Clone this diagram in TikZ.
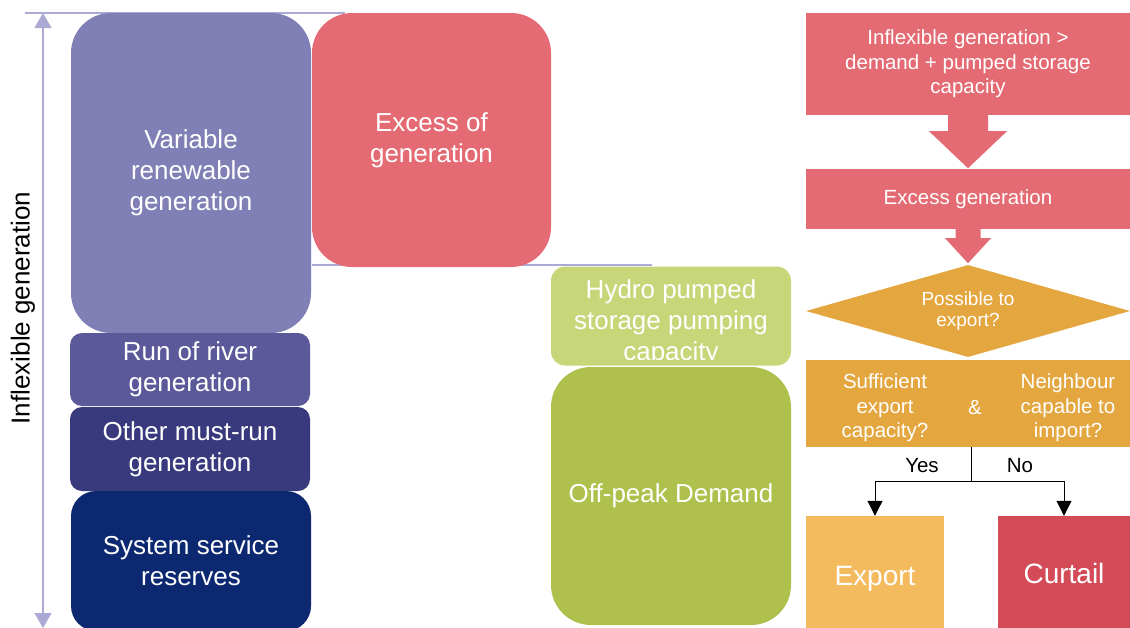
\documentclass[tikz,border=0pt]{standalone}
\usepackage{fontspec}
\setmainfont{Liberation Sans}
\usetikzlibrary{arrows.meta, calc, shapes.geometric}

\definecolor{axisline}{RGB}{170,170,212}
\definecolor{varren}{RGB}{129,128,182}
\definecolor{excessred}{RGB}{228,107,115}
\definecolor{riverblue}{RGB}{91,89,153}
\definecolor{mustrun}{RGB}{57,57,125}
\definecolor{reserves}{RGB}{12,40,112}
\definecolor{hydro}{RGB}{200,214,122}
\definecolor{offpeak}{RGB}{175,193,76}
\definecolor{askorange}{RGB}{228,166,62}
\definecolor{exportorange}{RGB}{243,186,94}
\definecolor{curtailred}{RGB}{212,75,88}

\newcommand{\bigfont}{\fontsize{26}{31}\selectfont}
\newcommand{\flowfont}{\fontsize{20.5}{24.5}\selectfont}
\newcommand{\askfont}{\fontsize{19}{21}\selectfont}

\tikzset{
  stack/.style={rectangle, rounded corners=#1, inner sep=0pt, minimum width=240pt,
    text=white, font=\bigfont, align=center},
  stack/.default=12pt,
  flow/.style={rectangle, inner sep=0pt, text=white, font=\flowfont, align=center},
  guide/.style={draw=axisline, line width=1.2pt},
  branch/.style={draw=black, line width=1pt},
}

\begin{document}
\begin{tikzpicture}[x=1pt, y=-1pt]
    \clip (0,0) rectangle (1130,627);

    % guide lines and axis
    \draw[guide] (25,13) -- (345,13);
    \draw[guide] (312,265) -- (652,265);
    \draw[guide, {Triangle[width=17pt,length=15pt]}-{Triangle[width=17pt,length=15pt]}] (43,13) -- (43,628);
    \node[rotate=90, font=\bigfont] (axislabel) at (23,308) {Inflexible generation};

    % generation stack
    \node[stack=40pt, fill=varren, minimum height=320pt] (varren) at (191,173) {Variable\\renewable\\generation};
    \node[stack=40pt, fill=excessred, minimum width=239pt, minimum height=254pt] (excess) at (431.5,140) {Excess of\\generation};
    \node[stack, fill=riverblue, minimum height=73pt] (river) at (190,369.5) {Run of river\\generation};
    \node[stack, fill=mustrun, minimum height=84pt] (mustrun) at (190,449) {Other must-run\\generation};
    \node[stack=25pt, fill=reserves, minimum height=140pt] (reserves) at (191,561) {System service\\reserves};

    % demand side
    \node[stack=14pt, fill=hydro, minimum height=99pt] (hydro) at (671,316) {};
    \begin{scope}
      \clip (551,266) rectangle (791,359);
      \node[text=white, font=\bigfont, align=center] (hydrotext) at (671,323) {Hydro pumped\\storage pumping\\capacity};
    \end{scope}
    \node[stack=40pt, fill=offpeak, minimum height=258pt] (offpeak) at (671,496) {Off-peak Demand};

    % decision flow
    \node[flow, fill=excessred, minimum width=324pt, minimum height=102pt] (cond) at (968,64) {Inflexible generation >\\demand + pumped storage\\capacity};
    \node[flow, fill=excessred, minimum width=324pt, minimum height=60pt] (excessgen) at (968,199) {Excess generation};
    \fill[excessred, shift={(cond.south)}] (-20,0) -- (-20,16) -- (-39,16) -- (0,53) -- (39,16) -- (20,16) -- (20,0) -- cycle;
    \fill[excessred, shift={(excessgen.south)}] (-12.5,0) -- (-12.5,9) -- (-23,9) -- (0,34) -- (23,9) -- (12.5,9) -- (12.5,0) -- cycle;

    \node[diamond, aspect=3.5, fill=askorange, inner sep=0pt, minimum width=324pt, minimum height=92pt,
      text=white, font=\askfont, align=center] (possible) at (968,311) {Possible to\\export?};
    \node[flow, fill=askorange, minimum width=324pt, minimum height=87pt] (check) at (968,403.5) {};
    \node[flow] (capacity) at (885,408) {Sufficient\\export\\capacity?};
    \node[flow] (andsign) at (975,408) {\&};
    \node[flow] (neighbour) at (1068,408) {Neighbour\\capable to\\import?};

    \node[flow, fill=exportorange, minimum width=138pt, minimum height=125pt, font=\fontsize{28}{33}\selectfont] (export) at (875,578.5) {Export};
    \node[flow, fill=curtailred, minimum width=132pt, minimum height=114pt, font=\fontsize{28}{33}\selectfont] (curtail) at (1064,573) {Curtail};

    \coordinate (split) at ($(check.south)+(3,34)$);
    \draw[branch] ($(check.south)+(3,0)$) -- (split);
    \draw[branch, -{Triangle[width=15pt,length=15pt]}] (split) -| (export.north);
    \draw[branch, -{Triangle[width=15pt,length=15pt]}] (split) -| (curtail.north);
    \node[font=\flowfont] (yes) at (922,466) {Yes};
    \node[font=\flowfont] (no) at (1020,466) {No};
\end{tikzpicture}
\end{document}
